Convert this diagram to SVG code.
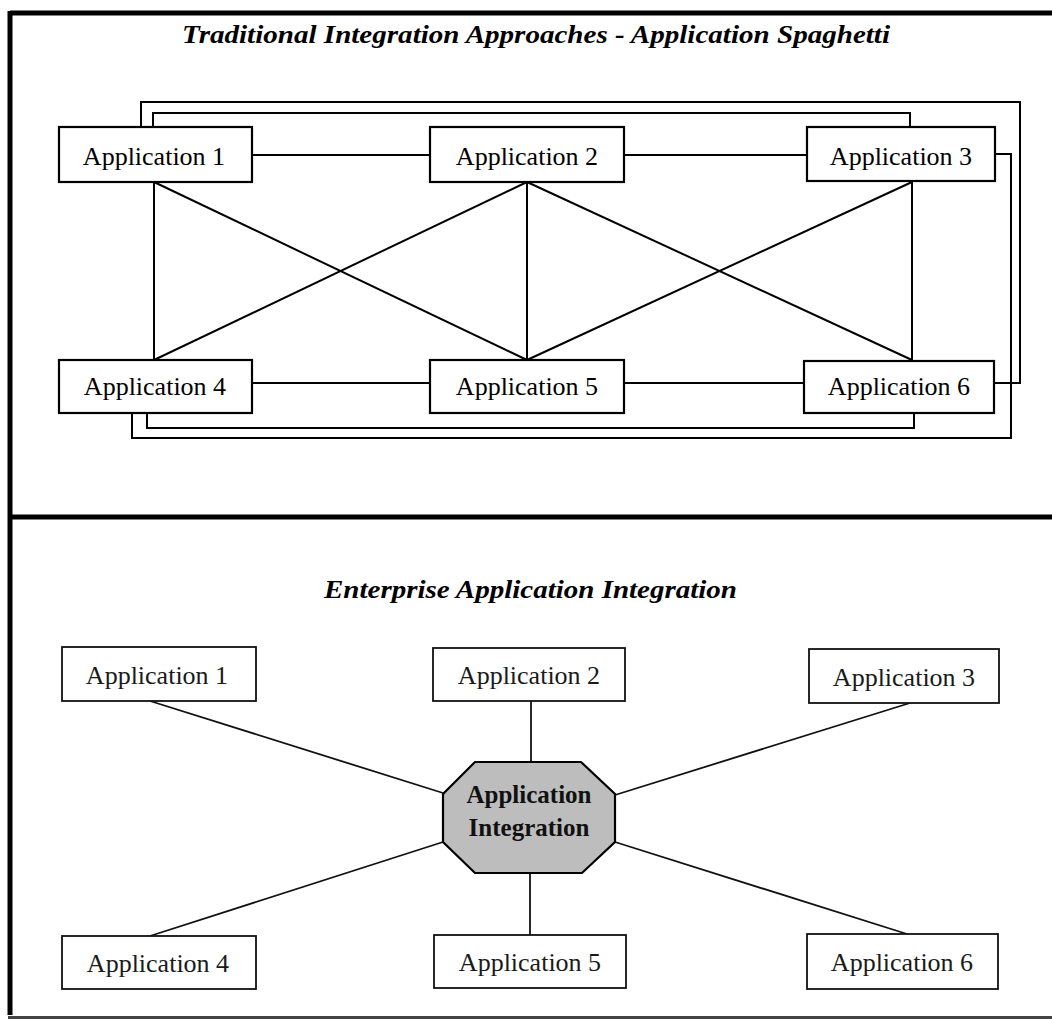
<svg xmlns="http://www.w3.org/2000/svg" width="1052" height="1019" viewBox="0 0 1052 1019">
<style>
.frame{fill:none;stroke:#000;stroke-width:5}
.box{fill:#fff;stroke:#000;stroke-width:2.2}
.box2{fill:#fff;stroke:#111;stroke-width:1.8}
.lbl{font-family:"Liberation Serif","Times New Roman",serif;font-size:26px;fill:#000;text-anchor:middle}
.lbl2{font-family:"Liberation Serif","Times New Roman",serif;font-size:26px;fill:#1a1a1a;text-anchor:middle}
.title{font-family:"Liberation Serif","Times New Roman",serif;font-size:25px;font-weight:bold;font-style:italic;fill:#000}
.conn{fill:none;stroke:#000;stroke-width:2}
.conn2{fill:none;stroke:#111;stroke-width:1.8}
.hub{fill:#bdbdbd;stroke:#000;stroke-width:2.2}
.hubt{font-family:"Liberation Serif","Times New Roman",serif;font-size:25px;font-weight:bold;fill:#111;text-anchor:middle}
</style>
<rect width="1052" height="1019" fill="#fff"/>
<g id="frame">
<line class="frame" x1="10" y1="13" x2="1052" y2="13"/>
<line class="frame" x1="10" y1="11" x2="10" y2="1015"/>
<line class="frame" x1="8" y1="517" x2="1052" y2="517"/>
<line x1="8" y1="1017.5" x2="1052" y2="1017.5" stroke="#444" stroke-width="3"/>
</g>
<text class="title" x="182" y="43" textLength="708" lengthAdjust="spacingAndGlyphs">Traditional Integration Approaches - Application Spaghetti</text>
<text class="title" x="324" y="598" textLength="413" lengthAdjust="spacingAndGlyphs">Enterprise Application Integration</text>
<g id="connectors-top">
<line class="conn" x1="252" y1="155" x2="430" y2="155"/>
<line class="conn" x1="624" y1="155" x2="807" y2="155"/>
<line class="conn" x1="252" y1="383" x2="430" y2="383"/>
<line class="conn" x1="624" y1="383" x2="804" y2="383"/>
<line class="conn" x1="154" y1="182" x2="154" y2="360"/>
<line class="conn" x1="154" y1="182" x2="527" y2="360"/>
<line class="conn" x1="527" y1="182" x2="154" y2="360"/>
<line class="conn" x1="527" y1="182" x2="527" y2="360"/>
<line class="conn" x1="527" y1="182" x2="912" y2="360"/>
<line class="conn" x1="912" y1="182" x2="527" y2="360"/>
<line class="conn" x1="912" y1="182" x2="912" y2="360"/>
<polyline class="conn" points="141,127 141,102 1020,102 1020,383 994,383"/>
<polyline class="conn" points="153,127 153,113 910,113 910,127"/>
<polyline class="conn" points="995,154 1011,154 1011,438 132,438 132,413"/>
<polyline class="conn" points="147,413 147,428 914,428 914,413"/>
</g>
<g id="t-app1"><rect class="box" x="59" y="127" width="193" height="55"/><text class="lbl" x="154" y="165">Application 1</text></g>
<g id="t-app2"><rect class="box" x="430" y="127" width="194" height="55"/><text class="lbl" x="527" y="165">Application 2</text></g>
<g id="t-app3"><rect class="box" x="807" y="127" width="188" height="54"/><text class="lbl" x="901" y="165">Application 3</text></g>
<g id="t-app4"><rect class="box" x="59" y="360" width="193" height="53"/><text class="lbl" x="155" y="395">Application 4</text></g>
<g id="t-app5"><rect class="box" x="430" y="360" width="194" height="53"/><text class="lbl" x="527" y="395">Application 5</text></g>
<g id="t-app6"><rect class="box" x="804" y="361" width="190" height="52"/><text class="lbl" x="899" y="395">Application 6</text></g>
<g id="connectors-bottom">
<line class="conn2" x1="150" y1="701" x2="443" y2="793"/>
<line class="conn2" x1="531" y1="701" x2="531" y2="762"/>
<line class="conn2" x1="910" y1="703" x2="615" y2="795"/>
<line class="conn2" x1="150" y1="936" x2="443" y2="842"/>
<line class="conn2" x1="530" y1="935" x2="530" y2="873"/>
<line class="conn2" x1="907" y1="934" x2="615" y2="842"/>
</g>
<g id="b-app1"><rect class="box2" x="62" y="647" width="194" height="54"/><text class="lbl2" x="157" y="684">Application 1</text></g>
<g id="b-app2"><rect class="box2" x="433" y="648" width="192" height="53"/><text class="lbl2" x="529" y="684">Application 2</text></g>
<g id="b-app3"><rect class="box2" x="809" y="649" width="190" height="54"/><text class="lbl2" x="904" y="686">Application 3</text></g>
<g id="b-app4"><rect class="box2" x="62" y="936" width="194" height="53"/><text class="lbl2" x="158" y="972">Application 4</text></g>
<g id="b-app5"><rect class="box2" x="434" y="935" width="192" height="53"/><text class="lbl2" x="530" y="971">Application 5</text></g>
<g id="b-app6"><rect class="box2" x="807" y="934" width="191" height="55"/><text class="lbl2" x="902" y="971">Application 6</text></g>
<g id="hub">
<polygon class="hub" points="475,762 581,762 615,794 615,842 582,873 475,873 443,842 443,794"/>
<text class="hubt" x="529" y="803">Application</text>
<text class="hubt" x="529" y="836">Integration</text>
</g>
</svg>
